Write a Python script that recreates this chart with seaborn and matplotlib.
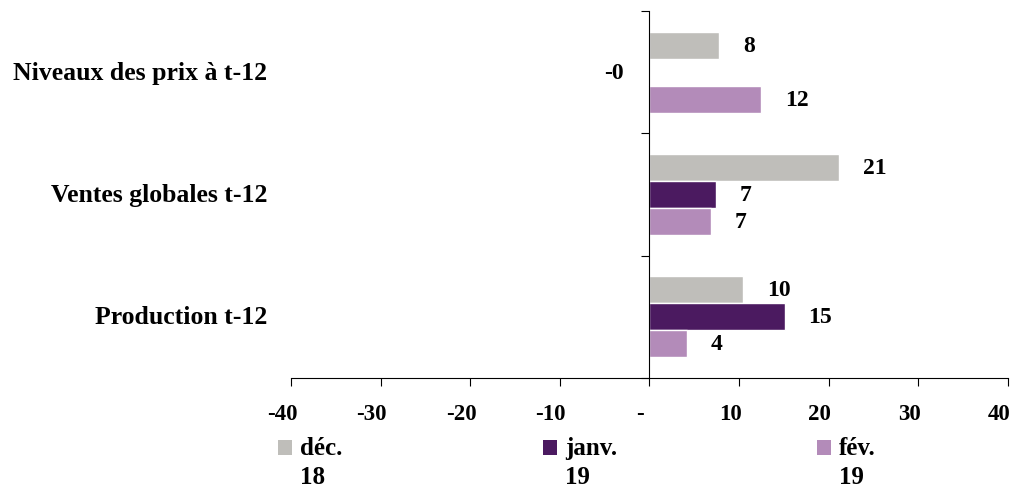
import matplotlib
matplotlib.use("Agg")
import matplotlib.pyplot as plt
import matplotlib.ticker as mticker
import matplotlib.transforms as mtransforms
from matplotlib.patches import Patch, Rectangle
from matplotlib.legend_handler import HandlerPatch
import pandas as pd
import seaborn as sns

CATEGORIES = ["Niveaux des prix à t-12", "Ventes globales t-12", "Production t-12"]
SERIES = ["déc.\n18", "janv.\n19", "fév.\n19"]
DEC_18 = [7.8, 21.2, 10.5]
JANV_19 = [-0.2, 7.4, 15.1]
FEV_19 = [12.5, 6.9, 4.2]
COLORS = ["#BFBEBA", "#4B1A60", "#B38BB9"]
X_TICKS = [-40, -30, -20, -10, 0, 10, 20, 30, 40]

df = pd.DataFrame({
    "categorie": CATEGORIES * 3,
    "serie": [s for s in SERIES for _ in CATEGORIES],
    "valeur": DEC_18 + JANV_19 + FEV_19,
})

sns.set_style("white")
plt.rcParams["font.family"] = ["Liberation Serif", "DejaVu Serif"]
plt.rcParams["font.weight"] = "bold"
plt.rcParams["text.color"] = "black"
plt.rcParams["xtick.color"] = "black"
plt.rcParams["ytick.color"] = "black"

fig = plt.figure(figsize=(10.19, 4.89), dpi=100)
ax = fig.add_axes([0.2856, 0.225, 0.7034, 0.7505])

sns.barplot(data=df, y="categorie", x="valeur", hue="serie",
            order=CATEGORIES, hue_order=SERIES, palette=COLORS,
            orient="h", width=0.66, saturation=1, ax=ax, legend=False)

for cont in ax.containers:
    ax.bar_label(cont, fmt="%.0f", padding=17, fontsize=17,
                 fontweight="bold", color="black")

ax.set_xlim(-40, 40)
ax.set_ylim(2.5, -0.5)
ax.set_xticks(X_TICKS)
ax.xaxis.set_major_formatter(mticker.FuncFormatter(
    lambda v, p: "-" if v == 0 else f"{v:.0f}"))
ax.tick_params(axis="x", bottom=True, direction="out", length=6, width=0.8,
               pad=12, labelsize=16.5, colors="black")
# étiquettes décalées à gauche comme dans Excel (espace de fin)
shift = mtransforms.ScaledTranslation(-9 / 100, 0, fig.dpi_scale_trans)
for lab in ax.get_xticklabels():
    lab.set_transform(lab.get_transform() + shift)

# axe vertical à zéro, graduations entre catégories
ax.spines["left"].set_position(("data", 0))
ax.spines["top"].set_visible(False)
ax.spines["right"].set_visible(False)
for s in ("left", "bottom"):
    ax.spines[s].set_color("black")
    ax.spines[s].set_linewidth(0.8)
ax.set_yticks([0, 1, 2])
ax.set_yticklabels([])
ax.tick_params(axis="y", which="major", length=0)
ax.yaxis.set_minor_locator(mticker.FixedLocator([-0.5, 0.5, 1.5, 2.5]))
ax.tick_params(axis="y", which="minor", direction="out", length=6,
               width=0.8, color="black", left=True)

trans = ax.get_yaxis_transform()
for i, cat in enumerate(CATEGORIES):
    ax.text(-0.033, i, cat, transform=trans, ha="right", va="center",
            fontsize=18.5, fontweight="bold", color="black")

ax.set_xlabel("")
ax.set_ylabel("")


def top_square(legend, orig_handle, xdescent, ydescent, width, height, fontsize):
    # carré aligné sur la première ligne du libellé
    return Rectangle((-xdescent, -ydescent + 0.59 * fontsize), width, height)


handles = [Patch(facecolor=c, edgecolor="none") for c in COLORS]
leg = fig.legend(handles, SERIES, loc="upper left", bbox_to_anchor=(0.2728, 0.107),
                 ncol=3, frameon=False, fontsize=18, handlelength=0.56,
                 handleheight=0.56, handletextpad=0.33, columnspacing=8.0,
                 borderpad=0, borderaxespad=0,
                 handler_map={Patch: HandlerPatch(patch_func=top_square)})
for t in leg.get_texts():
    t.set_linespacing(1.35)
    t.set_color("black")

fig.savefig("out.png", dpi=100)
